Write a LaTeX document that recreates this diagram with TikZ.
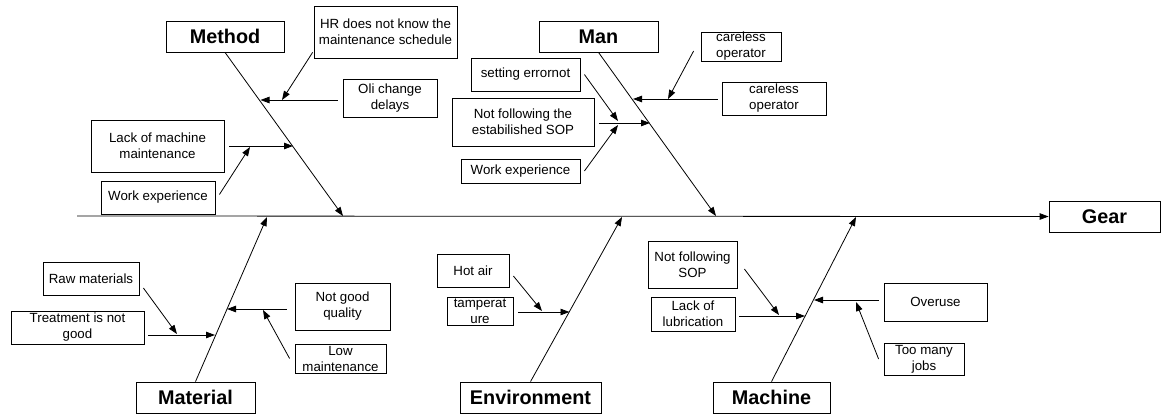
\documentclass[tikz,border=0pt]{standalone}
\usepackage{fontspec}
\setmainfont{Liberation Sans}
\usetikzlibrary{arrows.meta}
\tikzset{
  box/.style={draw, line width=0.8pt, inner sep=0pt, align=center, font=\fontsize{13.3}{16}\selectfont},
  title/.style={draw, line width=0.8pt, inner sep=0pt, align=center, font=\fontsize{19.8}{22}\selectfont\bfseries},
  arr/.style={line width=0.8pt, -{Triangle[length=9pt,width=6.5pt]}},
}
\begin{document}
\begin{tikzpicture}[x=1pt,y=-1pt]
\useasboundingbox (0,0) rectangle (1161,416);
% spine
\coordinate (spine0) at (77,216);
\node[title, minimum width=111, minimum height=31] (gear) at (1104.5,216.5) {Gear};
\draw[arr] (spine0) -- (gear.west);

% ---- Method
\node[title, minimum width=118, minimum height=31] (method) at (225,36.5) {Method};
\coordinate (m0) at (343,216);
\draw[arr] (method.south) -- (m0);
\node[box, minimum width=143, minimum height=52] (hr) at (385.5,32) {HR does not know the\\maintenance schedule};
\node[box, minimum width=94, minimum height=38] (oli) at (390,98) {Oli change\\delays};
\node[box, minimum width=133, minimum height=52] (lack) at (157.5,146) {Lack of machine\\maintenance};
\node[box, minimum width=114, minimum height=33] (work1) at (158,197.5) {Work experience};
\coordinate (mo1) at (260.5,100);
\coordinate (mh1) at (282,100);
\coordinate (ml1) at (293,146);
\coordinate (mw1) at (250,147);
\draw[arr] ([shift={(-5,2)}]oli.west) -- (mo1);
\draw[arr] ([shift={(-1,-6)}]hr.south west) -- (mh1);
\draw[arr] ([xshift=5]lack.east) -- (ml1);
\draw[arr] ([shift={(4,-3)}]work1.east) -- (mw1);

% ---- Man
\node[title, minimum width=119, minimum height=31] (man) at (598.5,36.5) {Man};
\coordinate (n0) at (716,216);
\draw[arr] (man.south) -- (n0);
\node[box, minimum width=80, minimum height=29] (co1) at (741,46.5) {careless\\operator};
\node[box, minimum width=104, minimum height=33] (co2) at (774,98.5) {careless\\operator};
\node[box, minimum width=109, minimum height=33] (se) at (525.5,74.5) {setting errornot};
\node[box, minimum width=142, minimum height=48] (nf) at (523,122) {Not following the\\estabilished SOP};
\node[box, minimum width=119, minimum height=24] (we2) at (520.5,171) {Work experience};
\coordinate (nb1) at (633,99);
\coordinate (nb2) at (668,99);
\coordinate (nb3) at (650,123);
\coordinate (nb4) at (618,121);
\coordinate (nb5) at (618,125);
\draw[arr] ([shift={(-4,0.5)}]co2.west) -- (nb1);
\draw[arr] ([shift={(-7,4.5)}]co1.west) -- (nb2);
\draw[arr] ([shift={(5,1)}]nf.east) -- (nb3);
\draw[arr] ([xshift=4]se.east) -- (nb4);
\draw[arr] ([xshift=4]we2.east) -- (nb5);

% ---- Material
\node[title, minimum width=119, minimum height=31] (material) at (195.5,397.5) {Material};
\coordinate (t0) at (267,217);
\draw[arr] (material.north) -- (t0);
\node[box, minimum width=96, minimum height=33] (rm) at (91,278.5) {Raw materials};
\node[box, minimum width=133, minimum height=33] (tr) at (77.5,327.5) {Treatment is not\\good};
\node[box, minimum width=95, minimum height=47] (ng) at (342.5,306.5) {Not good\\quality};
\node[box, minimum width=91, minimum height=29] (lm) at (340.5,358.5) {Low\\maintenance};
\coordinate (tb1) at (215,335);
\coordinate (tb2) at (227,309);
\coordinate (tb3) at (263,310);
\coordinate (tb4) at (177,334);
\draw[arr] ([shift={(4,7.5)}]tr.east) -- (tb1);
\draw[arr] ([shift={(4,9.5)}]rm.east) -- (tb4);
\draw[arr] ([shift={(-8,2.5)}]ng.west) -- (tb2);
\draw[arr] ([xshift=-5]lm.west) -- (tb3);

% ---- Environment
\node[title, minimum width=141, minimum height=31] (env) at (530.5,397.5) {Environment};
\coordinate (e0) at (622,217);
\draw[arr] (env.north) -- (e0);
\node[box, minimum width=72, minimum height=33] (ha) at (473,270.5) {Hot air};
\node[box, minimum width=66, minimum height=28] (tp) at (480,311) {tamperat\\ure};
\coordinate (eb1) at (569.5,312);
\coordinate (eb2) at (542,311);
\draw[arr] ([shift={(5,1)}]tp.east) -- (eb1);
\draw[arr] ([shift={(4,5.5)}]ha.east) -- (eb2);

% ---- Machine
\node[title, minimum width=117, minimum height=31] (mach) at (771.5,397.5) {Machine};
\coordinate (c0) at (856,217);
\draw[arr] (mach.north) -- (c0);
\node[box, minimum width=89, minimum height=47] (nfs) at (692.5,264.5) {Not following\\SOP};
\node[box, minimum width=84, minimum height=34] (ll) at (693,314) {Lack of\\lubrication};
\node[box, minimum width=103, minimum height=38] (ov) at (935.5,302) {Overuse};
\node[box, minimum width=80, minimum height=32] (tm) at (924,359) {Too many\\jobs};
\coordinate (cb1) at (805,316);
\coordinate (cb2) at (779,315);
\coordinate (cb3) at (814,300);
\coordinate (cb4) at (856,302);
\draw[arr] ([shift={(4,2)}]ll.east) -- (cb1);
\draw[arr] ([shift={(7,4.5)}]nfs.east) -- (cb2);
\draw[arr] ([shift={(-5,-2)}]ov.west) -- (cb3);
\draw[arr] ([xshift=-5]tm.west) -- (cb4);
\end{tikzpicture}
\end{document}
